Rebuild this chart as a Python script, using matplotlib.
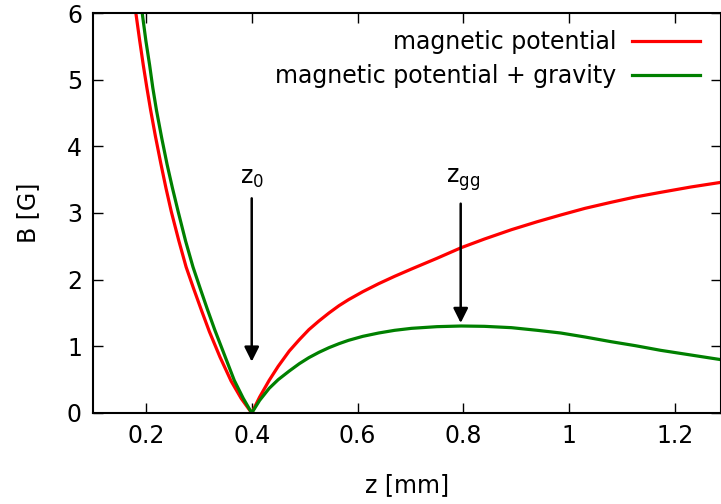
import numpy as np
import matplotlib
matplotlib.use("Agg")
import matplotlib.pyplot as plt
import matplotlib.ticker as ticker

plt.rcParams['font.family'] = ['DejaVu Sans']
plt.rcParams['mathtext.fontset'] = 'dejavusans'
plt.rcParams['font.size'] = 17

# magnetic potential (red)
z_mag = [0.181, 0.188, 0.195, 0.202, 0.209, 0.218, 0.228, 0.238, 0.248, 0.262, 0.276,
         0.290, 0.305, 0.320, 0.340, 0.361, 0.380, 0.400,
         0.415, 0.433, 0.450, 0.471, 0.490, 0.508, 0.527, 0.546, 0.565, 0.583,
         0.610, 0.640, 0.670, 0.702, 0.750, 0.796, 0.840, 0.891, 0.940, 0.984,
         1.030, 1.079, 1.125, 1.173, 1.230, 1.287]
B_mag = [6.00, 5.60, 5.22, 4.87, 4.54, 4.15, 3.75, 3.37, 3.02, 2.59, 2.19,
         1.87, 1.54, 1.22, 0.84, 0.48, 0.22, 0.00,
         0.24, 0.49, 0.70, 0.93, 1.10, 1.25, 1.38, 1.50, 1.61, 1.70,
         1.82, 1.94, 2.05, 2.16, 2.32, 2.48, 2.61, 2.75, 2.87, 2.97,
         3.07, 3.16, 3.24, 3.31, 3.39, 3.46]

# magnetic potential + gravity (green)
z_grav = [0.193, 0.200, 0.207, 0.213, 0.220, 0.230, 0.240, 0.250, 0.261, 0.275, 0.289,
          0.303, 0.316, 0.330, 0.349, 0.367, 0.384, 0.400,
          0.415, 0.433, 0.450, 0.471, 0.490, 0.508, 0.527, 0.546, 0.565, 0.583,
          0.610, 0.640, 0.670, 0.702, 0.750, 0.796, 0.840, 0.891, 0.940, 0.984,
          1.030, 1.079, 1.125, 1.173, 1.230, 1.287]
B_grav = [6.00, 5.58, 5.22, 4.88, 4.54, 4.12, 3.73, 3.38, 3.02, 2.58, 2.19,
          1.86, 1.56, 1.25, 0.86, 0.49, 0.22, 0.00,
          0.19, 0.37, 0.50, 0.63, 0.74, 0.83, 0.91, 0.98, 1.04, 1.09,
          1.15, 1.20, 1.24, 1.27, 1.295, 1.305, 1.30, 1.28, 1.24, 1.20,
          1.14, 1.07, 1.01, 0.94, 0.87, 0.80]

z0 = 0.4
zgg = 0.795

fig = plt.figure(figsize=(7.21, 5.04), dpi=100)
ax = fig.add_axes([93/721, 91/504, (721-93)/721, 400/504])

ax.plot(z_mag, B_mag, color='#ff0000', lw=2.3, label='magnetic potential')
ax.plot(z_grav, B_grav, color='#008000', lw=2.3, label='magnetic potential + gravity')

arrow = dict(arrowstyle='-|>', lw=1.8, color='black', mutation_scale=22, shrinkA=0, shrinkB=0)
ax.annotate('', xy=(z0, 0.77), xytext=(z0, 3.22), arrowprops=arrow)
ax.annotate('', xy=(zgg, 1.35), xytext=(zgg, 3.14), arrowprops=arrow)
ax.text(z0, 3.35, 'z$_0$', ha='center', va='bottom')
ax.text(zgg + 0.005, 3.3, r'z$_\mathrm{gg}$', ha='center', va='bottom')

ax.set_xlim(0.1, 1.287)
ax.set_ylim(0, 6)
ax.set_xticks([0.2, 0.4, 0.6, 0.8, 1.0, 1.2])
ax.set_yticks(range(0, 7))
ax.xaxis.set_major_formatter(ticker.FormatStrFormatter('%g'))
ax.tick_params(direction='in', length=7, width=1, top=True, right=True, pad=8)
for s in ax.spines.values():
    s.set_linewidth(1.5)

ax.set_xlabel('z [mm]', labelpad=18)
ax.set_ylabel('B [G]', labelpad=19)

leg = ax.legend(loc='upper right', bbox_to_anchor=(0.9666, 0.9575), frameon=False,
                markerfirst=False, handlelength=2.9, labelspacing=0.42, handletextpad=0.64,
                borderpad=0, borderaxespad=0)

fig.savefig('out.png', dpi=100)
